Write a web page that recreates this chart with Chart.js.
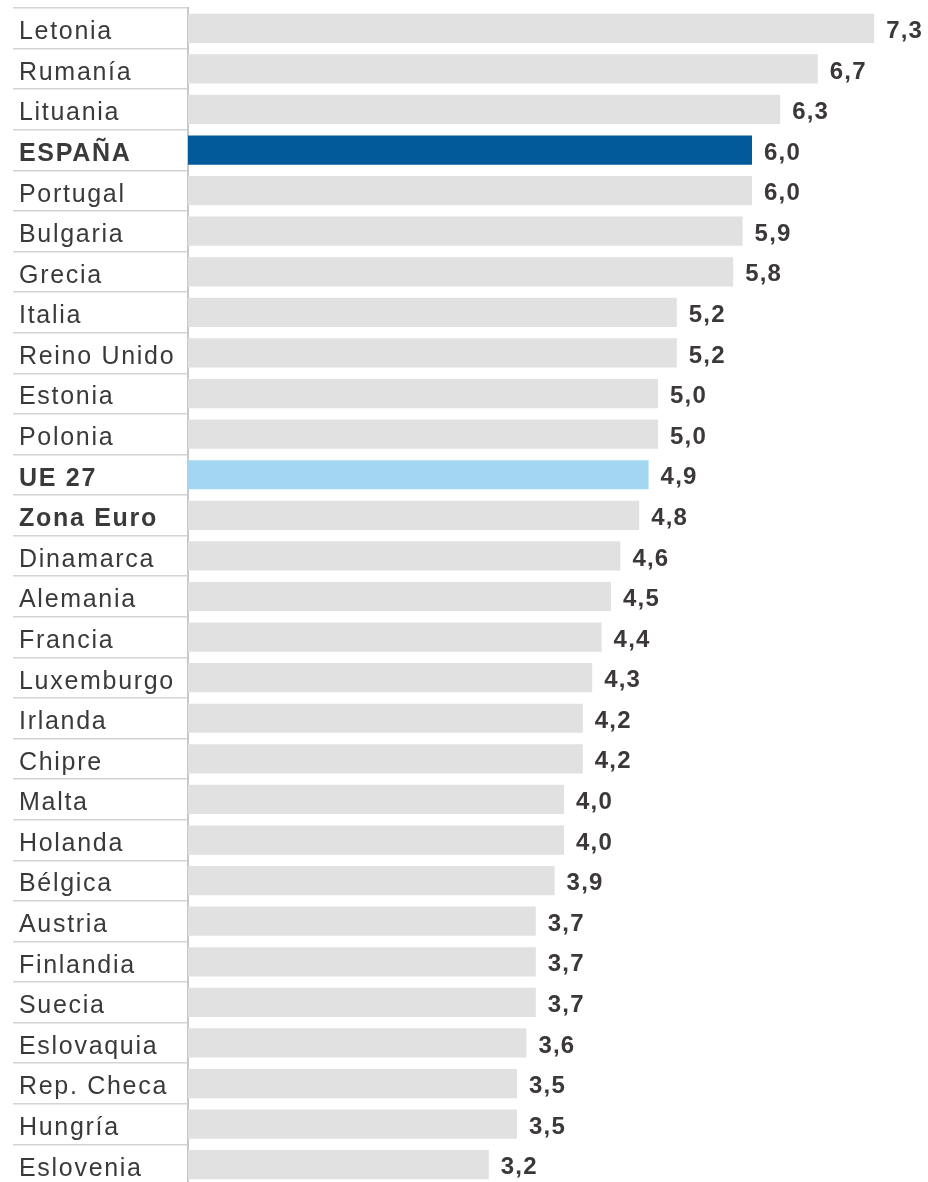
<!DOCTYPE html>
<html>
<head>
<meta charset="utf-8">
<script src="https://cdn.jsdelivr.net/npm/chart.js@4"></script>
<style>
  html, body { margin: 0; padding: 0; background: #fff; overflow: hidden; }
  #wrap { position: relative; width: 928px; height: 1185px; }
</style>
</head>
<body>
<div id="wrap"><canvas id="chart"></canvas></div>
<script>
// Countries and aggregates, in display order
const categories = [
  'Letonia', 'Rumanía', 'Lituania', 'ESPAÑA', 'Portugal', 'Bulgaria', 'Grecia',
  'Italia', 'Reino Unido', 'Estonia', 'Polonia', 'UE 27', 'Zona Euro', 'Dinamarca',
  'Alemania', 'Francia', 'Luxemburgo', 'Irlanda', 'Chipre', 'Malta', 'Holanda',
  'Bélgica', 'Austria', 'Finlandia', 'Suecia', 'Eslovaquia', 'Rep. Checa',
  'Hungría', 'Eslovenia'
];
const values = [
  7.3, 6.7, 6.3, 6.0, 6.0, 5.9, 5.8,
  5.2, 5.2, 5.0, 5.0, 4.9, 4.8, 4.6,
  4.5, 4.4, 4.3, 4.2, 4.2, 4.0, 4.0,
  3.9, 3.7, 3.7, 3.7, 3.6, 3.5,
  3.5, 3.2
];
// Rows shown in bold
const boldLabels = ['ESPAÑA', 'UE 27', 'Zona Euro'];

const FONT = "'Liberation Sans', Arial, Helvetica, sans-serif";
const GREY = '#e1e1e1';
const SPAIN = '#035a9b';
const EU = '#a3d7f1';

const barColors = categories.map(c => c === 'ESPAÑA' ? SPAIN : (c === 'UE 27' ? EU : GREY));

const fmt = v => v.toFixed(1).replace('.', ',');

// Wider text tracking for every label on the canvas
const tracking = {
  id: 'tracking',
  beforeDraw(chart) { chart.ctx.letterSpacing = '1.7px'; }
};

// Value printed just past the end of each bar
const valueLabels = {
  id: 'valueLabels',
  afterDatasetsDraw(chart) {
    const ctx = chart.ctx;
    const meta = chart.getDatasetMeta(0);
    ctx.save();
    ctx.letterSpacing = '1.2px';
    ctx.font = 'bold 24px ' + FONT;
    ctx.fillStyle = '#3b373a';
    ctx.textAlign = 'left';
    ctx.textBaseline = 'middle';
    meta.data.forEach((bar, i) => {
      ctx.fillText(fmt(values[i]), bar.x + 12, bar.y + 3);
    });
    ctx.restore();
  }
};

new Chart(document.getElementById('chart'), {
  type: 'bar',
  data: {
    labels: categories,
    datasets: [{
      data: values,
      backgroundColor: barColors,
      borderWidth: 0,
      barPercentage: 0.72,
      categoryPercentage: 1.0
    }]
  },
  options: {
    indexAxis: 'y',
    responsive: true,
    maintainAspectRatio: false,
    animation: false,
    layout: { padding: { left: 19, right: 25.6, top: 8, bottom: 0 } },
    plugins: {
      legend: { display: false },
      tooltip: { enabled: false }
    },
    scales: {
      x: {
        display: false,
        min: 0,
        max: 7.6
      },
      y: {
        position: 'left',
        afterFit(scale) {
          scale.width = 169;
          scale.paddingTop = 0;
          scale.paddingBottom = 0;
        },
        border: { display: true, color: '#c8c8c8', width: 2 },
        grid: {
          offset: true,
          drawOnChartArea: false,
          drawTicks: true,
          tickLength: 175,
          color: '#d4d4d4',
          lineWidth: 1.5
        },
        ticks: {
          crossAlign: 'far',
          padding: 0,
          labelOffset: 4,
          color: '#3a3a3a',
          autoSkip: false,
          font: ctx => ({
            family: FONT,
            size: 25,
            weight: boldLabels.includes(categories[ctx.index]) ? 'bold' : 'normal'
          })
        }
      }
    }
  },
  plugins: [tracking, valueLabels]
});
</script>
</body>
</html>
